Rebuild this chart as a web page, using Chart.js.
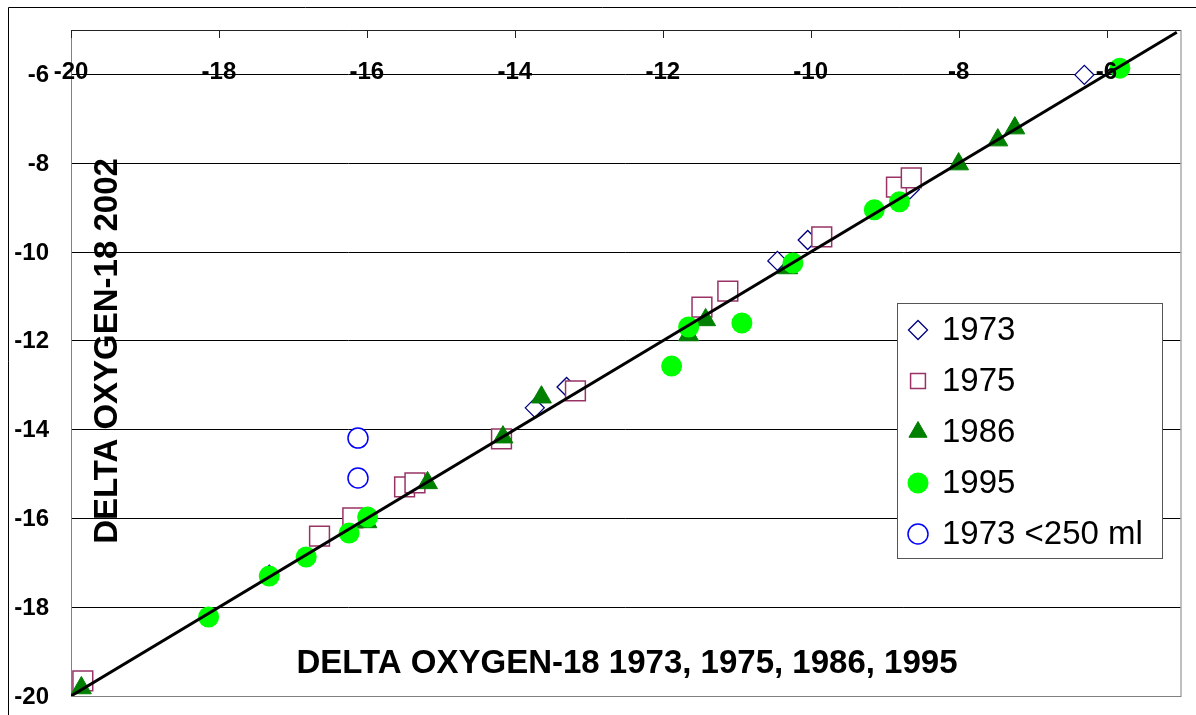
<!DOCTYPE html>
<html>
<head>
<meta charset="utf-8">
<script src="https://cdn.jsdelivr.net/npm/chart.js@4.4.1/dist/chart.umd.min.js"></script>
<style>
    html, body { margin: 0; padding: 0; background: #fff; }
    #wrap { position: relative; width: 1196px; height: 715px; }
</style>
</head>
<body>
<div id="wrap"><canvas id="o18_chart" width="1196" height="715"></canvas></div>
<script>
// tick values for both axes
const xTicks = [-20, -18, -16, -14, -12, -10, -8, -6];
const yTicks = [-20, -18, -16, -14, -12, -10, -8, -6];

// delta O-18 of earlier survey (x) vs 2002 (y)
const x1973 = [-6.30, -10.04, -10.45, -8.66, -13.73, -13.30, -17.32];
const y1973 = [-6.01, -9.73, -10.20, -8.59, -13.51, -13.04, -17.27];

const x1975 = [-19.84, -16.64, -16.19, -15.49, -15.35, -14.18, -13.18, -11.47, -11.12, -9.85, -8.84, -8.64];
const y1975 = [-19.66, -16.40, -15.99, -15.29, -15.20, -14.21, -13.13, -11.24, -10.88, -9.66, -8.54, -8.33];

const x1986 = [-19.86, -16.00, -15.18, -14.16, -13.64, -11.65, -11.42, -10.31, -8.00, -7.47, -7.24];
const y1986 = [-19.82, -16.08, -15.20, -14.17, -13.27, -11.87, -11.53, -10.36, -8.02, -7.48, -7.21];

const x1995 = [-5.82, -9.14, -8.80, -10.24, -10.93, -11.88, -11.65, -17.32, -16.82, -16.24, -15.99, -18.14];
const y1995 = [-5.86, -9.05, -8.87, -10.25, -11.60, -12.57, -11.69, -17.30, -16.87, -16.33, -15.97, -18.22];

const x1973small = [-16.12, -16.12];
const y1973small = [-14.19, -15.09];

// 1:1 line
const lineX = [-20, -5.05];
const lineY = [-20, -5.05];

const FONT = "'Liberation Sans', Arial, sans-serif";

const toPoints = (xs, ys) => xs.map((x, i) => ({x: x, y: ys[i]}));

const decorations = {
    id: 'decorations',
    beforeDraw(chart) {
        const ctx = chart.ctx;
        ctx.save();
        ctx.fillStyle = '#fff';
        ctx.fillRect(0, 0, chart.width, chart.height);
        // outer chart frame (runs off the right and bottom edges)
        ctx.strokeStyle = '#000';
        ctx.lineWidth = 1;
        ctx.beginPath();
        ctx.moveTo(8.5, chart.height + 2);
        ctx.lineTo(8.5, 7.5);
        ctx.lineTo(chart.width + 2, 7.5);
        ctx.stroke();
        ctx.restore();
    },
    beforeDatasetsDraw(chart) {
        const ctx = chart.ctx;
        const a = chart.chartArea;
        const xs = chart.scales.x;
        const ys = chart.scales.y;
        ctx.save();

        // plot frame
        ctx.lineWidth = 1;
        ctx.strokeStyle = '#808080';
        ctx.strokeRect(a.left + 0.5, a.top + 0.5, a.right - a.left, a.bottom - a.top);
        ctx.strokeStyle = '#222';
        ctx.beginPath();
        ctx.moveTo(a.left, a.top + 0.5);
        ctx.lineTo(a.right, a.top + 0.5);
        xTicks.forEach(v => {
            const px = Math.round(xs.getPixelForValue(v)) + 0.5;
            ctx.moveTo(px, a.top);
            ctx.lineTo(px, a.top + 8);
        });
        ctx.stroke();

        // y tick labels
        ctx.fillStyle = '#000';
        ctx.font = 'bold 24px ' + FONT;
        ctx.textAlign = 'right';
        ctx.textBaseline = 'middle';
        yTicks.forEach(v => ctx.fillText(String(v), 49, ys.getPixelForValue(v) + 1));

        // axis titles, drawn inside the plot
        ctx.font = 'bold 33px ' + FONT;
        ctx.textAlign = 'center';
        ctx.textBaseline = 'alphabetic';
        ctx.fillText('DELTA OXYGEN-18 1973, 1975, 1986, 1995', 627, 673);
        ctx.translate(117, 351);
        ctx.rotate(-Math.PI / 2);
        ctx.fillText('DELTA OXYGEN-18 2002', 0, 0);
        ctx.restore();
    },
    afterDatasetsDraw(chart) {
        // x tick labels sit on top of the markers
        const ctx = chart.ctx;
        const xs = chart.scales.x;
        ctx.save();
        ctx.fillStyle = '#000';
        ctx.font = 'bold 24px ' + FONT;
        ctx.textAlign = 'center';
        ctx.textBaseline = 'alphabetic';
        xTicks.forEach(v => ctx.fillText(String(v), xs.getPixelForValue(v), 79));
        ctx.restore();
    },
    afterDraw(chart) {
        const ctx = chart.ctx;
        ctx.save();
        const bx = 897, by = 303, bw = 265, bh = 255;
        ctx.fillStyle = '#fff';
        ctx.fillRect(bx, by, bw, bh);
        ctx.strokeStyle = '#555';
        ctx.lineWidth = 1;
        ctx.strokeRect(bx + 0.5, by + 0.5, bw, bh);

        const items = chart.data.datasets.filter(d => d.legendRow !== undefined);
        ctx.font = '33px ' + FONT;
        ctx.textAlign = 'left';
        ctx.textBaseline = 'middle';
        items.forEach(d => {
            const cy = by + 27 + d.legendRow * 51;
            ctx.fillStyle = d.backgroundColor;
            ctx.strokeStyle = d.borderColor;
            ctx.lineWidth = d.borderWidth;
            Chart.helpers.drawPoint(ctx, {
                pointStyle: d.pointStyle,
                radius: Math.min(d.pointRadius, 10.5),
                borderWidth: d.borderWidth,
                rotation: 0
            }, 918, cy);
            ctx.fillStyle = '#000';
            ctx.fillText(d.label, 942, cy + 1);
        });
        ctx.restore();
    }
};

const ctx = document.getElementById('o18_chart').getContext('2d');
const o18_chart = new Chart(ctx, {
    type: 'scatter',
    data: {
        datasets: [
            {
                label: '1:1',
                type: 'line',
                data: toPoints(lineX, lineY),
                showLine: true,
                borderColor: '#000',
                borderWidth: 3,
                pointRadius: 0,
                fill: false,
                order: 0
            },
            {
                label: '1973',
                legendRow: 0,
                data: toPoints(x1973, y1973),
                pointStyle: 'rectRot',
                pointRadius: 9.5,
                backgroundColor: '#fff',
                borderColor: '#000080',
                borderWidth: 1.3,
                order: 5
            },
            {
                label: '1975',
                legendRow: 1,
                data: toPoints(x1975, y1975),
                pointStyle: 'rect',
                pointRadius: 14,
                backgroundColor: '#fff',
                borderColor: '#993366',
                borderWidth: 1.5,
                order: 4
            },
            {
                label: '1986',
                legendRow: 2,
                data: toPoints(x1986, y1986),
                pointStyle: 'triangle',
                pointRadius: 11.5,
                backgroundColor: '#008000',
                borderColor: '#008000',
                borderWidth: 1,
                order: 3
            },
            {
                label: '1995',
                legendRow: 3,
                data: toPoints(x1995, y1995),
                pointStyle: 'circle',
                pointRadius: 10.5,
                backgroundColor: '#00ff00',
                borderColor: '#00ff00',
                borderWidth: 0,
                order: 2
            },
            {
                label: '1973 <250 ml',
                legendRow: 4,
                data: toPoints(x1973small, y1973small),
                pointStyle: 'circle',
                pointRadius: 10,
                backgroundColor: '#fff',
                borderColor: '#0000ff',
                borderWidth: 1.5,
                order: 1
            },
        ]
    },
    options: {
        responsive: false,
        animation: false,
        events: [],
        layout: {
            padding: {left: 71, top: 30, right: 15, bottom: 19}
        },
        plugins: {
            legend: {display: false},
            tooltip: {enabled: false}
        },
        scales: {
            x: {
                type: 'linear',
                position: 'top',
                min: -20,
                max: -5,
                grid: {display: false},
                border: {display: false},
                ticks: {display: false},
                afterFit: s => { s.height = 0; }
            },
            y: {
                type: 'linear',
                min: -20,
                max: -5,
                afterBuildTicks: s => { s.ticks = yTicks.map(v => ({value: v})); },
                grid: {color: '#000', lineWidth: 1, drawTicks: false},
                border: {display: false},
                ticks: {display: false},
                afterFit: s => { s.width = 0; }
            }
        }
    },
    plugins: [decorations]
});
</script>
</body>
</html>
